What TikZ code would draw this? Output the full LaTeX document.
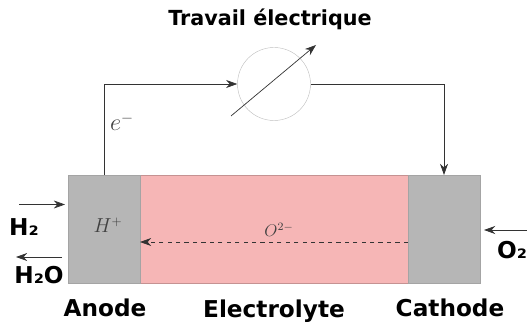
\documentclass[tikz,border=0pt]{standalone}
\usepackage{amsmath,amssymb}
\usepackage{xcolor}
\usepackage{fontspec}
\setmainfont{DejaVu Sans}
\usepackage{tikz}
\usetikzlibrary{arrows.meta}
\definecolor{plate}{HTML}{B6B6B6}
\definecolor{oxide}{HTML}{F6B6B6}
\definecolor{wire}{HTML}{333333}

\begin{document}
\begin{tikzpicture}[
            cell/.style={shape=rectangle, inner sep=0pt, outer sep=0pt, minimum height=2.7cm},
            word/.style={font=\fontsize{16.5}{20}\selectfont\bfseries, inner sep=0pt},
            sym/.style={text=black!75, inner sep=0pt},
            flow/.style={draw=wire, line width=0.5pt, -{Stealth[length=2.8mm,width=2mm,inset=0.9mm]}}]
        \useasboundingbox (0,0) rectangle (13.175,8.175);

        \node[cell, fill=oxide, draw=oxide!80!black, minimum width=6.7cm] (electrolyte) at (6.85,2.45) {};
        \node[cell, fill=plate, draw=plate!90!black, minimum width=1.8cm] (anode) at (2.6,2.45) {};
        \node[cell, fill=plate, draw=plate!90!black, minimum width=1.8cm] (cathode) at (11.1,2.45) {};
        \node[shape=circle, draw=black!25, line width=0.3pt, inner sep=0pt, minimum size=1.825cm] (meter) at (6.85,6.075) {};

        \node[word, font=\fontsize{14.75}{18}\selectfont\bfseries] (title) at (6.75,7.7) {Travail électrique};
        \node[word] (anodeword) at (2.625,0.475) {Anode};
        \node[word] (electrolyteword) at (6.85,0.4) {Electrolyte};
        \node[word] (cathodeword) at (11.25,0.475) {Cathode};
        \node[word] (htwo) at (0.6,2.5) {H₂};
        \node[word] (water) at (0.975,1.3) {H₂O};
        \node[word] (otwo) at (12.8,1.925) {O₂};

        \node[sym, font=\fontsize{16}{18}\selectfont] (elec) at (3.05,5.125) {$e^-$};
        \node[sym, font=\fontsize{13.5}{16}\selectfont] (proton) at (2.7,2.55) {$H^+$};
        \node[sym, font=\fontsize{11.5}{13}\selectfont] (ion) at (6.975,2.425) {$O^{2-}$};

        \coordinate (needlea) at (5.775,5.275);
        \coordinate (needleb) at (7.9,7.05);
        \coordinate (htwoa) at (0.475,3.0625);
        \coordinate (htwob) at (1.625,3.0625);
        \coordinate (watera) at (1.55,1.75);
        \coordinate (waterb) at (0.4,1.75);
        \coordinate (otwoa) at (13.175,2.425);
        \coordinate (otwob) at (12.1,2.425);
        \coordinate (iona) at (10.2,2.125);
        \coordinate (ionb) at (3.5,2.125);

        \draw[flow] (anode.north) |- (meter.west);
        \draw[flow] (meter.east) -| (cathode.north);
        \draw[flow] (needlea) -- (needleb);
        \draw[flow] (htwoa) -- (htwob);
        \draw[flow] (watera) -- (waterb);
        \draw[flow] (otwoa) -- (otwob);
        \draw[flow, dashed] (iona) -- (ionb);
    \end{tikzpicture}
\end{document}
